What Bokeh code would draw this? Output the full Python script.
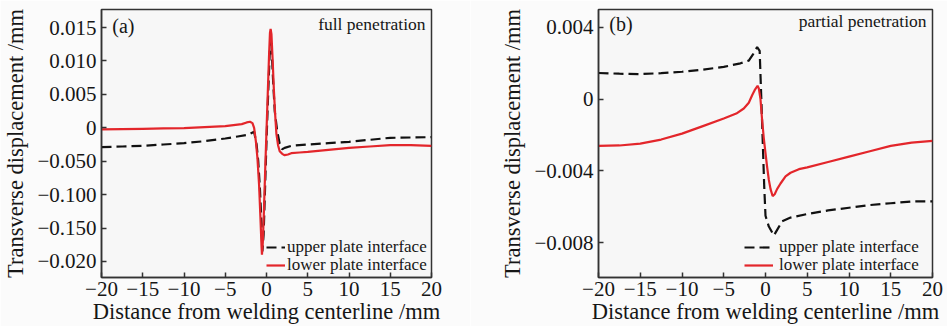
from bokeh.plotting import figure
from bokeh.layouts import row
from bokeh.models import FixedTicker, Label, Legend
from bokeh.embed import file_html
from bokeh.resources import INLINE

# ---------------- data (a) full penetration, values in mm ----------------
a_upper_x = [-20, -17.5, -15, -12.5, -10, -7.5, -5, -3.5, -2.5, -2.0, -1.5, -1.2, -1.0, -0.8, -0.6, -0.5, -0.35, -0.2, 0, 0.2, 0.4, 0.5, 0.6, 0.8, 1.0, 1.3, 1.6, 1.9, 2.2, 3, 5, 7.5, 10, 12.5, 15, 17.5, 20]
a_upper_y = [-0.0029, -0.0028, -0.0027, -0.0025, -0.0023, -0.002, -0.0016, -0.0013, -0.0011, -0.0009, -0.0006, -0.0025, -0.005, -0.009, -0.0145, -0.0185, -0.016, -0.010, -0.002, 0.005, 0.0115, 0.0135, 0.0125, 0.007, 0.0025, -0.0005, -0.0024, -0.0032, -0.0030, -0.0027, -0.0025, -0.0023, -0.0021, -0.0018, -0.0015, -0.00145, -0.0014]
a_lower_x = [-20, -17.5, -15, -12.5, -10, -7.5, -5, -4, -3, -2.4, -2.0, -1.7, -1.5, -1.3, -1.1, -0.9, -0.75, -0.6, -0.55, -0.45, -0.3, -0.15, 0, 0.15, 0.3, 0.42, 0.5, 0.6, 0.75, 0.9, 1.05, 1.2, 1.4, 1.6, 1.9, 2.2, 2.6, 3, 4, 5, 7.5, 10, 12.5, 15, 17.5, 20]
a_lower_y = [-0.00025, -0.0002, -0.00015, -0.0001, -0.00005, 0.0001, 0.00025, 0.0004, 0.00055, 0.0008, 0.0009, 0.0007, 0.0, -0.0019, -0.0045, -0.0085, -0.013, -0.0178, -0.019, -0.0172, -0.012, -0.006, -0.0005, 0.005, 0.0105, 0.0142, 0.0148, 0.014, 0.010, 0.0055, 0.002, -0.0009, -0.0026, -0.0035, -0.0039, -0.0041, -0.0040, -0.0038, -0.0037, -0.0036, -0.0033, -0.0030, -0.0028, -0.0026, -0.0026, -0.0027]

# ---------------- data (b) partial penetration, values in mm ----------------
b_upper_x = [-20, -17.5, -15, -12.5, -10, -7.5, -5, -3, -2, -1.5, -1.0, -0.7, -0.5, -0.3, -0.15, 0, 0.4, 1.0, 1.5, 2.0, 3, 5, 7.5, 10, 12.5, 15, 17.5, 20]
b_upper_y = [0.00146, 0.00142, 0.0014, 0.00145, 0.00153, 0.00165, 0.0018, 0.002, 0.00215, 0.0025, 0.0029, 0.0027, 0.0, -0.0028, -0.0049, -0.0065, -0.0071, -0.0076, -0.0072, -0.0068, -0.0066, -0.0064, -0.0062, -0.00605, -0.0059, -0.0058, -0.0057, -0.0057]
b_lower_x = [-20, -17.5, -15, -12.5, -10, -7.5, -5, -3.5, -2.6, -2.0, -1.6, -1.3, -0.95, -0.8, -0.6, -0.4, -0.2, 0, 0.2, 0.4, 0.6, 0.85, 1.1, 1.4, 1.8, 2.4, 3, 4, 5, 7.5, 10, 12.5, 15, 17.5, 20]
b_lower_y = [-0.0026, -0.00258, -0.00248, -0.00225, -0.00192, -0.0015, -0.00108, -0.0008, -0.00052, -0.0002, 0.00022, 0.0005, 0.00075, 0.0006, 0.0, -0.0012, -0.0022, -0.003, -0.0038, -0.0045, -0.005, -0.0054, -0.0053, -0.005, -0.0047, -0.0043, -0.0041, -0.0039, -0.0038, -0.0035, -0.0032, -0.0029, -0.0026, -0.00242, -0.00232]

x_ticks = [-20, -15, -10, -5, 0, 5, 10, 15, 20]
x_tick_labels = ["\u221220", "\u221215", "\u221210", "\u22125", "0", "5", "10", "15", "20"]
a_y_ticks = [0.015, 0.010, 0.005, 0.0, -0.005, -0.010, -0.015, -0.020]
a_y_tick_labels = ["0.015", "0.010", "0.005", "0", "\u22120.050", "\u22120.100", "\u22120.150", "\u22120.020"]
b_y_ticks = [0.004, 0.0, -0.004, -0.008]
b_y_tick_labels = ["0.004", "0", "\u22120.004", "\u22120.008"]

series_labels = ["upper plate interface", "lower plate interface"]
panel_tags = ["(a)", "(b)"]
panel_notes = ["full penetration", "partial penetration"]
x_title = "Distance from welding centerline /mm"
y_title = "Transverse displacement /mm"

FONT = "Liberation Serif"
TXT = "#161616"
RED = "#e3262b"


def one_legend(item, loc, glyph_w, standoff):
    leg = Legend(items=[item], location=loc)
    leg.background_fill_alpha = 0
    leg.border_line_alpha = 0
    leg.margin = 0
    leg.padding = 0
    leg.spacing = 0
    leg.glyph_width = glyph_w
    leg.glyph_height = 16
    leg.label_height = 16
    leg.label_standoff = standoff
    leg.label_text_font = FONT
    leg.label_text_font_size = "17px"
    leg.label_text_color = TXT
    return leg


def make_panel(width, left, yr, y_ticks, y_labels, ux, uy, lx, ly, tag, note, tag_y, note_y,
               glyph_w, standoff, leg_x, leg_y1, leg_y2):
    p = figure(width=width, height=326, x_range=(-20, 20), y_range=yr,
               output_backend="svg", toolbar_location=None,
               min_border_left=left, min_border_right=(width - left - 334),
               min_border_top=9, min_border_bottom=48)
    p.background_fill_color = "#f7f7f7"
    p.border_fill_color = "#fbfbfb"
    p.outline_line_color = "#333333"
    p.outline_line_width = 1.5
    p.xgrid.visible = False
    p.ygrid.visible = False

    p.xaxis.ticker = FixedTicker(ticks=x_ticks)
    p.xaxis.major_label_overrides = dict(zip(x_ticks, x_tick_labels))
    p.yaxis.ticker = FixedTicker(ticks=y_ticks)
    p.yaxis.major_label_overrides = dict(zip(y_ticks, y_labels))
    for ax in (p.xaxis, p.yaxis):
        ax.major_tick_in = 5
        ax.major_tick_out = 0
        ax.minor_tick_line_color = None
        ax.major_tick_line_color = "#333333"
        ax.major_tick_line_width = 1.5
        ax.axis_line_color = "#333333"
        ax.axis_line_width = 1.5
        ax.major_label_text_font = FONT
        ax.major_label_text_font_size = "21px"
        ax.major_label_text_color = TXT
        ax.axis_label_text_font = FONT
        ax.axis_label_text_font_size = "22.5px"
        ax.axis_label_text_font_style = "normal"
        ax.axis_label_text_color = TXT
    p.xaxis.major_label_standoff = 4
    p.xaxis.axis_label_standoff = 0
    p.yaxis.major_label_standoff = 5
    p.yaxis.axis_label_standoff = 6
    p.xaxis.axis_label = x_title
    p.yaxis.axis_label = y_title

    r1 = p.line(ux, uy, line_color="#111111", line_width=2.2, line_dash="10 5")
    r2 = p.line(lx, ly, line_color=RED, line_width=2.2)

    p.add_layout(one_legend((series_labels[0], [r1]), (leg_x, leg_y1), glyph_w, standoff))
    p.add_layout(one_legend((series_labels[1], [r2]), (leg_x, leg_y2), glyph_w, standoff))

    p.add_layout(Label(x=-18.7, y=tag_y, text=tag, text_font=FONT, text_font_size="20px",
                       text_color=TXT, text_baseline="middle", text_align="left"))
    p.add_layout(Label(x=19.28, y=note_y, text=note, text_font=FONT, text_font_size="17.5px",
                       text_color=TXT, text_baseline="middle", text_align="right"))
    return p


pa = make_panel(470, 97, (-0.0224, 0.0177), a_y_ticks, a_y_tick_labels,
                a_upper_x, a_upper_y, a_lower_x, a_lower_y,
                panel_tags[0], panel_notes[0], 0.0153, 0.0155, 19, 2, 165, 20, 2)
pb = make_panel(477, 128, (-0.00994, 0.005), b_y_ticks, b_y_tick_labels,
                b_upper_x, b_upper_y, b_lower_x, b_lower_y,
                panel_tags[1], panel_notes[1], 0.00417, 0.00435, 29, 6, 146, 20, 2)

layout = row(pa, pb)
open("out.html", "w").write(file_html(layout, INLINE))
